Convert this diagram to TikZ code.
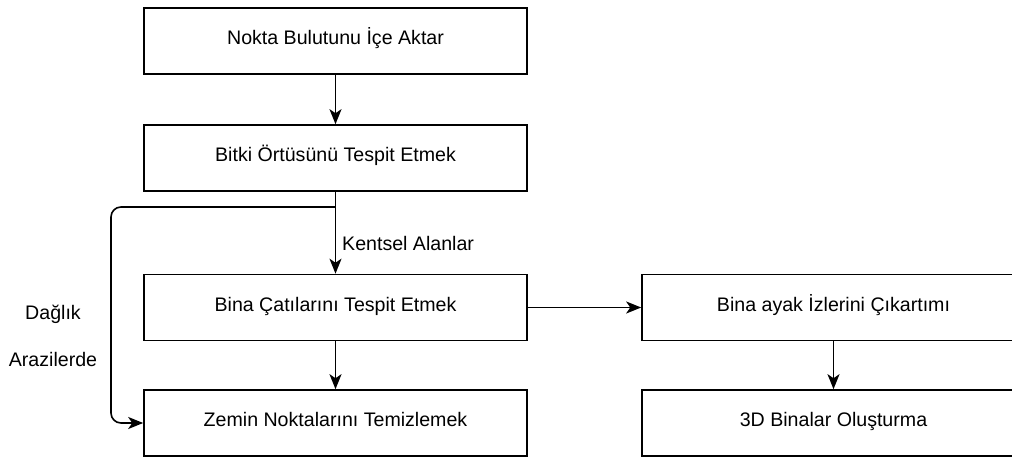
\documentclass[tikz,border=0pt]{standalone}
\usepackage{fontspec}
\setmainfont{Liberation Sans}
\usetikzlibrary{arrows.meta}
\begin{document}
\begin{tikzpicture}[x=1pt,y=-1pt,
  box/.style={draw=black, line width=1.6pt, minimum width=383pt, minimum height=66pt, inner sep=0pt,
    text height=0.716em, text depth=0pt, font=\fontsize{19.6pt}{24pt}\selectfont},
  lbl/.style={inner sep=0pt, font=\fontsize{19.6pt}{24pt}\selectfont},
  conn/.style={draw=black, line width=1.6pt, -{Stealth[length=15pt,width=12pt,inset=4pt]}}]
\useasboundingbox (0,0) rectangle (1012,457);
\clip (0,0) rectangle (1012,457);
\node[box] (b1) at (335.5,41) {Nokta Bulutunu İçe Aktar};
\node[box] (b2) at (335.5,158) {Bitki Örtüsünü Tespit Etmek};
\node[box] (b3) at (335.5,307.5) {Bina Çatılarını Tespit Etmek};
\node[box] (b4) at (335.5,423) {Zemin Noktalarını Temizlemek};
\node[box] (b5) at (833.5,307.5) {Bina ayak İzlerini Çıkartımı};
\node[box] (b6) at (833.5,423) {3D Binalar Oluşturma};
\coordinate (split) at (335.5,207);
\coordinate (lft) at (111,207);
\node[lbl, anchor=base west] (kl) at (342,251) {Kentsel Alanlar};
\node[lbl, anchor=base] (dg) at (53,319) {Dağlık};
\node[lbl, anchor=base] (ar) at (53,366) {Arazilerde};
\draw[conn] (b1.south) -- (b2.north);
\draw[conn] (b2.south) -- (b3.north);
\draw[conn, rounded corners=10pt] (split) -- (lft) -- (lft |- b4.west) -- (b4.west);
\draw[conn] (b3.south) -- (b4.north);
\draw[conn] (b3.east) -- (b5.west);
\draw[conn] (b5.south) -- (b6.north);
\end{tikzpicture}
\end{document}
